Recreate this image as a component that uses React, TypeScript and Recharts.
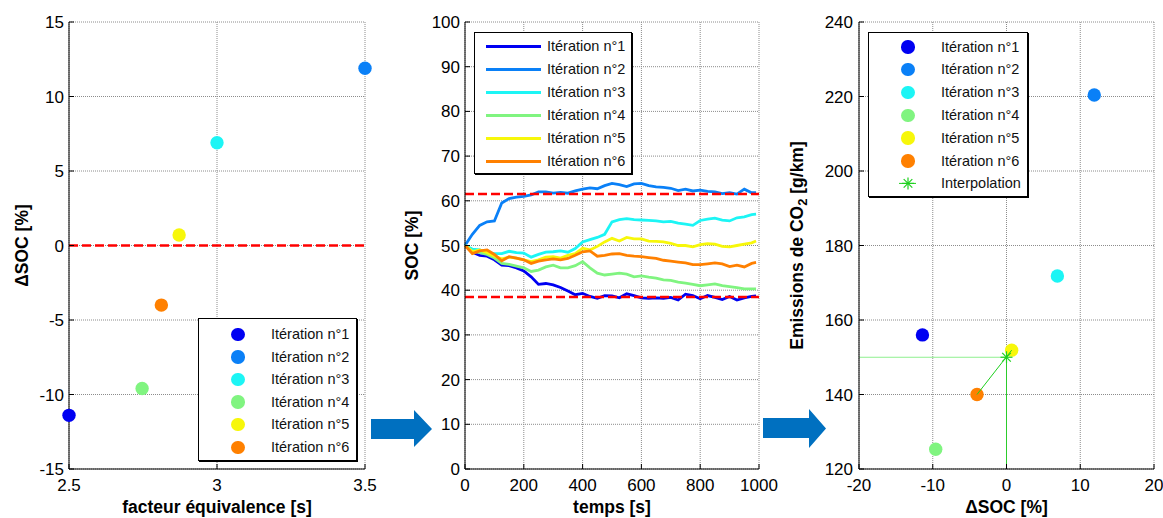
import React from 'react';
import {
  ScatterChart,
  Scatter,
  LineChart,
  Line,
  XAxis,
  YAxis,
  CartesianGrid,
  ReferenceLine,
  Legend,
} from 'recharts';

const iterNames = ['Itération n°1', 'Itération n°2', 'Itération n°3', 'Itération n°4', 'Itération n°5', 'Itération n°6'];
const iterColors = ['#0000f2', '#0a80f7', '#1cf5f5', '#80f480', '#f7f70a', '#ff8000'];

// panel 1 / panel 3 points
const facteur = [2.5, 3.5, 3.0, 2.747, 2.872, 2.812];
const deltaSoc = [-11.4, 11.9, 6.9, -9.6, 0.7, -4.0];
const emissions = [156.0, 220.4, 171.8, 125.3, 151.9, 140.0];
const interpPoint = { x: 0, y: 150 };

// panel 2 time series
const socBounds = [61.5, 38.5];
const timeS = [0, 25, 50, 75, 100, 125, 150, 175, 200, 225, 250, 275, 300, 325, 350, 375, 400, 425, 450, 475, 500,
  525, 550, 575, 600, 625, 650, 675, 700, 725, 750, 775, 800, 825, 850, 875, 900, 925, 950, 975, 990];
const soc1 = [50, 48.5, 47.8, 47.6, 46.8, 45.6, 45.5, 45, 44.3, 43, 41.3, 41.5, 41.2, 40.6, 39.8, 39, 39.3, 38.6, 38.2, 38.8, 38.7,
  38.3, 39.2, 38.8, 38.3, 38.2, 38.3, 38.2, 38.4, 37.8, 39.1, 38.8, 38.1, 38.8, 38.4, 37.9, 38.6, 37.8, 38.3, 38.6, 38.7];
const soc2 = [50, 52.5, 54.5, 55.3, 55.5, 59.5, 60.5, 60.8, 61, 61.3, 62, 62, 61.7, 61.9, 61.7, 62.2, 62.6, 62.9, 62.7, 63.4, 63.9,
  63.6, 63.2, 63.8, 63.9, 63.4, 63.1, 63, 62.8, 62.3, 62.6, 62.2, 62.4, 62.1, 62, 61.6, 61.8, 61.5, 62.6, 61.8, 61.8];
const soc3 = [50, 49.2, 49, 48.4, 48.2, 48.2, 48.7, 48.4, 48.3, 47.4, 48, 48.5, 48.6, 48.8, 48.5, 49.3, 50.8, 51.3, 51.8, 52.5, 55.3,
  55.8, 56, 55.8, 55.7, 55.6, 55.5, 55.3, 55.4, 55, 54.8, 54.5, 55.6, 55.9, 56.1, 55.7, 55.5, 56.2, 56.4, 56.9, 57];
const soc4 = [50, 48.8, 48.4, 48, 47.2, 46, 45.8, 45.4, 45, 44.2, 44.5, 45.2, 45.6, 45, 45, 45.5, 46.4, 45, 43.8, 43.4, 43.6,
  43.8, 43.6, 43, 43.2, 42.9, 42.7, 42.3, 42.2, 41.8, 41.6, 41.3, 41, 41.2, 41.4, 41, 40.8, 40.6, 40.3, 40.3, 40.3];
const soc5 = [50, 48.6, 49, 48.4, 47.6, 47, 47.4, 47.2, 46.8, 46.4, 46.8, 47.4, 47.5, 47.2, 47.8, 48.2, 49.4, 49, 49.8, 50.8, 51.6,
  51, 51.8, 51.5, 51.5, 51, 50.9, 50.8, 50.5, 50, 50, 49.7, 50.2, 50.4, 50.3, 49.8, 49.7, 50, 50.3, 50.6, 51];
const soc6 = [50, 48.2, 48.8, 49, 48, 46.6, 47.5, 47.2, 46.8, 46, 46.5, 46.8, 47, 46.8, 47.1, 47.8, 48.6, 48.8, 47.6, 47.8, 48.1,
  48.2, 47.8, 47.6, 47.5, 47.3, 47.1, 46.7, 46.5, 46.3, 46.1, 45.7, 45.7, 45.9, 46.1, 45.9, 45.3, 45.6, 45.2, 46, 46.2];

const socSeries = [soc1, soc2, soc3, soc4, soc5, soc6];
const socRows = timeS.map((t, i) => {
  const row: any = { t };
  socSeries.forEach((s, k) => { row['s' + (k + 1)] = s[i]; });
  return row;
});

const FONT = '"Liberation Sans", Arial, sans-serif';
const tickStyle = { fill: '#000', fontSize: 17, fontFamily: FONT };
const gridStroke = '#8c8c8c';
const TICK_IN = -5; // MATLAB style inward ticks

function VLabel(props: any) {
  const vb = props.viewBox || { x: 0, y: 22, width: 70, height: 447 };
  const cy = vb.y + vb.height / 2;
  const x = vb.x + props.dx;
  return (
    <text x={x} y={cy} transform={`rotate(-90 ${x} ${cy})`} textAnchor="middle" dominantBaseline="central"
      fontFamily={FONT} fontWeight="bold" fontSize={17.5} fill="#000">
      {props.children || props.text}
    </text>
  );
}

function HLabel(props: any) {
  const vb = props.viewBox || { x: 0, y: 469, width: 300, height: 49 };
  return (
    <text x={vb.x + vb.width / 2} y={vb.y + 44} textAnchor="middle" fontFamily={FONT} fontWeight="bold" fontSize={17.5} fill="#000">
      {props.text}
    </text>
  );
}

const dotShape = (color: string) => (p: any) => <circle cx={p.cx} cy={p.cy} r={6.7} fill={color} />;

const asteriskShape = (p: any) => {
  const s = 6;
  const d = 4.3;
  return (
    <g stroke="#1ed01e" strokeWidth={1.2}>
      <line x1={p.cx - s} y1={p.cy} x2={p.cx + s} y2={p.cy} />
      <line x1={p.cx} y1={p.cy - s} x2={p.cx} y2={p.cy + s} />
      <line x1={p.cx - d} y1={p.cy - d} x2={p.cx + d} y2={p.cy + d} />
      <line x1={p.cx - d} y1={p.cy + d} x2={p.cx + d} y2={p.cy - d} />
    </g>
  );
};

const legendBox = {
  border: '1px solid #000',
  boxShadow: '1px 1px 0 #000',
  background: '#fff',
  boxSizing: 'border-box' as const,
  width: '100%',
  height: '100%',
  fontFamily: FONT,
  fontSize: 14.5,
  color: '#111',
};

function MarkerLegend({ padTop, rowH, withInterp }: { padTop: number; rowH: number; withInterp?: boolean }) {
  return (
    <div style={{ ...legendBox, paddingTop: padTop }}>
      {iterNames.map((n, i) => (
        <div key={n} style={{ position: 'relative', height: rowH }}>
          <span style={{ position: 'absolute', left: 32.3, top: rowH / 2 - 6.7, width: 13.4, height: 13.4, borderRadius: '50%', background: iterColors[i] }} />
          <span style={{ position: 'absolute', left: 72, top: 0, lineHeight: rowH + 'px', whiteSpace: 'nowrap' }}>{n}</span>
        </div>
      ))}
      {withInterp && (
        <div style={{ position: 'relative', height: rowH }}>
          <svg width={60} height={rowH} style={{ position: 'absolute', left: 0, top: 0 }}>
            <line x1={30} y1={rowH / 2} x2={47} y2={rowH / 2} stroke="#1ed01e" strokeWidth={1} />
            {asteriskShape({ cx: 39, cy: rowH / 2 })}
          </svg>
          <span style={{ position: 'absolute', left: 72, top: 0, lineHeight: rowH + 'px', whiteSpace: 'nowrap' }}>Interpolation</span>
        </div>
      )}
    </div>
  );
}

function LineLegend() {
  const rowH = 23;
  return (
    <div style={{ ...legendBox, paddingTop: 1.5 }}>
      {iterNames.map((n, i) => (
        <div key={n} style={{ position: 'relative', height: rowH }}>
          <span style={{ position: 'absolute', left: 11, top: rowH / 2 - 1.5, width: 55, height: 3, background: iterColors[i] }} />
          <span style={{ position: 'absolute', left: 72, top: 0, lineHeight: rowH + 'px', whiteSpace: 'nowrap' }}>{n}</span>
        </div>
      ))}
    </div>
  );
}

// bottom/left axes carry labels, top/right axes only carry inward tick marks
function frameAxes(xDomain: number[], xTicks: number[], yDomain: number[], yTicks: number[], xKey?: string) {
  return [
    <XAxis key="xt" xAxisId="top" orientation="top" type="number" dataKey={xKey} domain={xDomain} ticks={xTicks}
      height={0} axisLine={false} tick={false} tickSize={TICK_IN} tickLine={{ stroke: '#000' }} />,
    <YAxis key="yr" yAxisId="right" orientation="right" type="number" domain={yDomain} ticks={yTicks}
      width={0} axisLine={false} tick={false} tickSize={TICK_IN} tickLine={{ stroke: '#000' }} />,
  ];
}

function DeltaSocChart() {
  const xT = [2.5, 3, 3.5];
  const yT = [-15, -10, -5, 0, 5, 10, 15];
  return (
    <ScatterChart width={390} height={518} margin={{ top: 22, right: 25, bottom: 0, left: 0 }}>
      <CartesianGrid stroke={gridStroke} strokeDasharray="1 1" />
      <XAxis type="number" dataKey="x" domain={[2.5, 3.5]} ticks={xT} height={49}
        tickSize={TICK_IN} tickLine={{ stroke: '#000' }} tickMargin={15} axisLine={{ stroke: '#000' }} tick={tickStyle}
        label={<HLabel text="facteur équivalence [s]" />} />
      <YAxis type="number" dataKey="y" domain={[-15, 15]} ticks={yT} width={69}
        tickSize={TICK_IN} tickLine={{ stroke: '#000' }} tickMargin={10} axisLine={{ stroke: '#000' }} tick={tickStyle}
        label={<VLabel text="ΔSOC [%]" dx={21.5} />} />
      {frameAxes([2.5, 3.5], xT, [-15, 15], yT, 'x')}
      <ReferenceLine y={0} stroke="#ff0000" strokeWidth={2.5} strokeDasharray="9 4" />
      {iterNames.map((n, i) => (
        <Scatter key={n} name={n} data={[{ x: facteur[i], y: deltaSoc[i] }]} fill={iterColors[i]}
          shape={dotShape(iterColors[i])} isAnimationActive={false} />
      ))}
      <Legend layout="vertical" align="center" verticalAlign="middle"
        wrapperStyle={{ left: 198, top: 318, width: 159, height: 143 }}
        content={() => <MarkerLegend padTop={4} rowH={22.6} />} />
    </ScatterChart>
  );
}

function SocChart() {
  const xT = [0, 200, 400, 600, 800, 1000];
  const yT = [0, 10, 20, 30, 40, 50, 60, 70, 80, 90, 100];
  return (
    <LineChart width={390} height={518} data={socRows} margin={{ top: 22, right: 21, bottom: 0, left: 0 }}>
      <CartesianGrid stroke={gridStroke} strokeDasharray="1 1" />
      <XAxis type="number" dataKey="t" domain={[0, 1000]} ticks={xT} height={49}
        tickSize={TICK_IN} tickLine={{ stroke: '#000' }} tickMargin={15} axisLine={{ stroke: '#000' }} tick={tickStyle}
        label={<HLabel text="temps [s]" />} />
      <YAxis type="number" domain={[0, 100]} ticks={yT} width={75}
        tickSize={TICK_IN} tickLine={{ stroke: '#000' }} tickMargin={10} axisLine={{ stroke: '#000' }} tick={tickStyle}
        label={<VLabel text="SOC [%]" dx={21.7} />} />
      {frameAxes([0, 1000], xT, [0, 100], yT, 't')}
      {iterNames.map((n, i) => (
        <Line key={n} name={n} dataKey={'s' + (i + 1)} type="linear" stroke={iterColors[i]} strokeWidth={2.8}
          dot={false} activeDot={false} isAnimationActive={false} />
      ))}
      {socBounds.map((b) => (
        <ReferenceLine key={b} y={b} stroke="#ff0000" strokeWidth={2.5} strokeDasharray="9 4" />
      ))}
      <Legend layout="vertical" align="center" verticalAlign="middle"
        wrapperStyle={{ left: 84, top: 32, width: 158, height: 142 }}
        content={() => <LineLegend />} />
    </LineChart>
  );
}

function EmissionChart() {
  const xT = [-20, -10, 0, 10, 20];
  const yT = [120, 140, 160, 180, 200, 220, 240];
  const interpLine = [
    { x: deltaSoc[5], y: emissions[5] },
    { x: deltaSoc[4], y: emissions[4] },
  ];
  return (
    <ScatterChart width={383} height={518} margin={{ top: 22, right: 9, bottom: 0, left: 0 }}>
      <CartesianGrid stroke={gridStroke} strokeDasharray="1 1" />
      <XAxis type="number" dataKey="x" domain={[-20, 20]} ticks={xT} height={49}
        tickSize={TICK_IN} tickLine={{ stroke: '#000' }} tickMargin={15} axisLine={{ stroke: '#000' }} tick={tickStyle}
        label={<HLabel text="ΔSOC [%]" />} />
      <YAxis type="number" dataKey="y" domain={[120, 240]} ticks={yT} width={79}
        tickSize={TICK_IN} tickLine={{ stroke: '#000' }} tickMargin={11} axisLine={{ stroke: '#000' }} tick={tickStyle}
        label={
          <VLabel dx={16.7}>
            Emissions de CO<tspan dy={5} fontSize={13}>2</tspan><tspan dy={-5}> [g/km]</tspan>
          </VLabel>
        } />
      {frameAxes([-20, 20], xT, [120, 240], yT, 'x')}
      <ReferenceLine segment={[{ x: -20, y: interpPoint.y }, { x: interpPoint.x, y: interpPoint.y }]} stroke="#8ef08e" strokeWidth={1} />
      <ReferenceLine segment={[{ x: interpPoint.x, y: 120 }, { x: interpPoint.x, y: interpPoint.y }]} stroke="#2ccc2c" strokeWidth={1} />
      {iterNames.map((n, i) => (
        <Scatter key={n} name={n} data={[{ x: deltaSoc[i], y: emissions[i] }]} fill={iterColors[i]}
          shape={dotShape(iterColors[i])} isAnimationActive={false} />
      ))}
      <Scatter name="interp-line" data={interpLine} line={{ stroke: '#1ed01e', strokeWidth: 1 }}
        shape={() => <g />} isAnimationActive={false} />
      <Scatter name="Interpolation" data={[interpPoint]} shape={asteriskShape} isAnimationActive={false} />
      <Legend layout="vertical" align="center" verticalAlign="middle"
        wrapperStyle={{ left: 88, top: 32, width: 160, height: 165 }}
        content={() => <MarkerLegend padTop={2.6} rowH={22.8} withInterp />} />
    </ScatterChart>
  );
}

function Arrows() {
  const blue = '#0070c0';
  return (
    <svg width={1163} height={518} style={{ position: 'absolute', left: 0, top: 0, pointerEvents: 'none' }}>
      <polygon fill={blue} points="371,419 414,419 414,410 432,429 414,447 414,439 371,439" />
      <polygon fill={blue} points="763,418 809,418 809,409 826,428.5 809,448 809,438 763,438" />
    </svg>
  );
}

export default function App() {
  return (
    <div style={{ position: 'absolute', left: 0, top: 0, width: 1163, height: 518, background: '#fff', fontFamily: FONT }}>
      <div style={{ position: 'absolute', left: 0, top: 0 }}>
        <DeltaSocChart />
      </div>
      <div style={{ position: 'absolute', left: 390, top: 0 }}>
        <SocChart />
      </div>
      <div style={{ position: 'absolute', left: 780, top: 0 }}>
        <EmissionChart />
      </div>
      <Arrows />
    </div>
  );
}
